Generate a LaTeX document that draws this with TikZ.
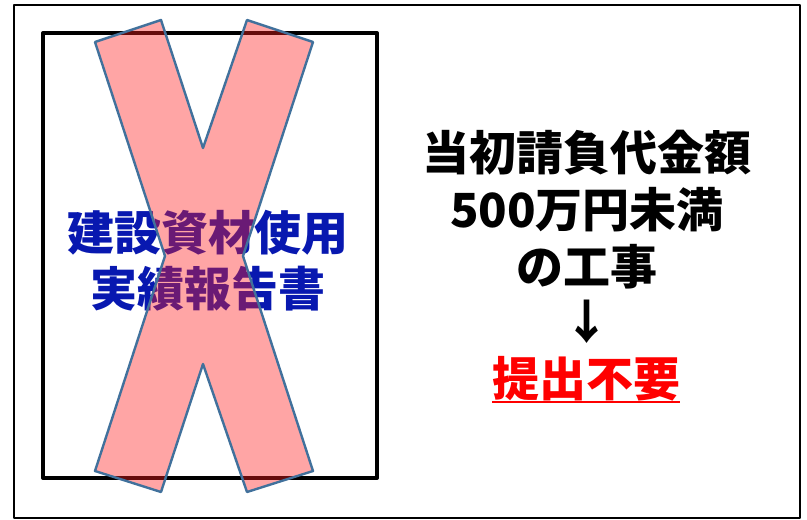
\documentclass[tikz,border=0pt]{standalone}
\usepackage{fontspec}
\newfontfamily\jpfont{Noto Sans CJK JP}
\definecolor{crossfill}{RGB}{255,30,30}
\definecolor{crossedge}{RGB}{65,113,156}
\definecolor{titleblue}{RGB}{8,24,176}
\tikzset{
  titletext/.style={font=\jpfont\bfseries\fontsize{47}{57}\selectfont, text=titleblue, inner sep=0pt},
  notetext/.style={font=\jpfont\bfseries\fontsize{47}{57}\selectfont, inner sep=0pt},
}
\begin{document}
\begin{tikzpicture}[line cap=round,line join=round,x=1pt,y=-1pt]
	\useasboundingbox (0,0) rectangle (807,520);
	% frames
	\draw[line width=1.5pt] (14,5) rectangle (800,518);
	\draw[line width=4pt,line cap=rect] (43,33) rectangle (377,478);
	% report title
	\node[titletext] (title1) at (208,233) {建設資材使用};
	\node[titletext] (title2) at (208,289) {実績報告書};
	% note on the right
	\node[notetext] (cost) at (587,153) {当初請負代金額};
	\node[notetext] (limit) at (587,210) {500万円未満};
	\node[notetext] (work) at (587,267) {の工事};
	\node[notetext] (down) at (587,322) {↓};
	\node[notetext,text=red] (noneed) at (586,379) {提出不要};
	\draw[red,line width=2.5pt,line cap=butt] (492,402) -- (680,402);
	% cross
	\draw[crossedge,line width=2.4pt,fill=crossfill,fill opacity=0.4]
		(95,42) -- (161,20) -- (203,148) -- (247,20) -- (313,42) -- (243,256)
		-- (313,471) -- (247,492) -- (203,364) -- (161,492) -- (95,471) -- (165,256) -- cycle;
\end{tikzpicture}
\end{document}
